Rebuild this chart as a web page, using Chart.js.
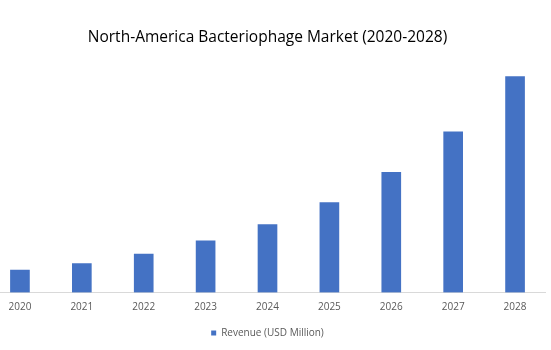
<!DOCTYPE html>
<html>
<head>
<meta charset="utf-8">
<script src="https://cdn.jsdelivr.net/npm/chart.js@4/dist/chart.umd.min.js"></script>
<style>
  html, body { margin: 0; padding: 0; background: #fff; overflow: hidden; }
  #wrap { position: absolute; left: -11px; top: 0; width: 557px; height: 350px; }
</style>
</head>
<body>
<div id="wrap"><canvas id="bar-chart-canvas"></canvas></div>
<script>
// revenue per year, USD million
const years = ['2020', '2021', '2022', '2023', '2024', '2025', '2026', '2027', '2028'];
const revenue = [22.2, 28.8, 38.2, 51.2, 67.5, 89.2, 119.2, 159.5, 214.2];
const seriesLabel = 'Revenue (USD Million)';
const titleText = 'North-America Bacteriophage Market (2020-2028)';

const fontFamily = '"Open Sans", "Noto Sans", sans-serif';

const chart = new Chart(document.getElementById('bar-chart-canvas'), {
    type: 'bar',
    data: {
        labels: years,
        datasets: [
            {
                label: seriesLabel,
                data: revenue,
                backgroundColor: '#4472c4',
                borderWidth: 0,
                barThickness: 19
            }
        ]
    },
    options: {
        responsive: true,
        maintainAspectRatio: false,
        animation: false,
        layout: {
            padding: { top: 0, bottom: 2, left: 0, right: 0 }
        },
        plugins: {
            title: {
                display: true,
                text: titleText,
                color: '#000',
                font: { family: fontFamily, size: 15.5, weight: 'normal' },
                padding: { top: 28, bottom: 4 }
            },
            legend: {
                position: 'bottom',
                labels: {
                    boxWidth: 5,
                    boxHeight: 5,
                    padding: 6,
                    color: '#595959',
                    font: { family: fontFamily, size: 10 }
                }
            },
            tooltip: { enabled: false }
        },
        scales: {
            x: {
                grid: { display: false },
                border: { display: true, color: '#d9d9d9', width: 1 },
                ticks: {
                    color: '#595959',
                    font: { family: fontFamily, size: 10 },
                    padding: 1
                },
                // leave room between the year labels and the legend
                afterFit: (scale) => { scale.height += 7.5; }
            },
            y: {
                display: false,
                min: 0,
                max: 240
            }
        }
    }
});
</script>
</body>
</html>
